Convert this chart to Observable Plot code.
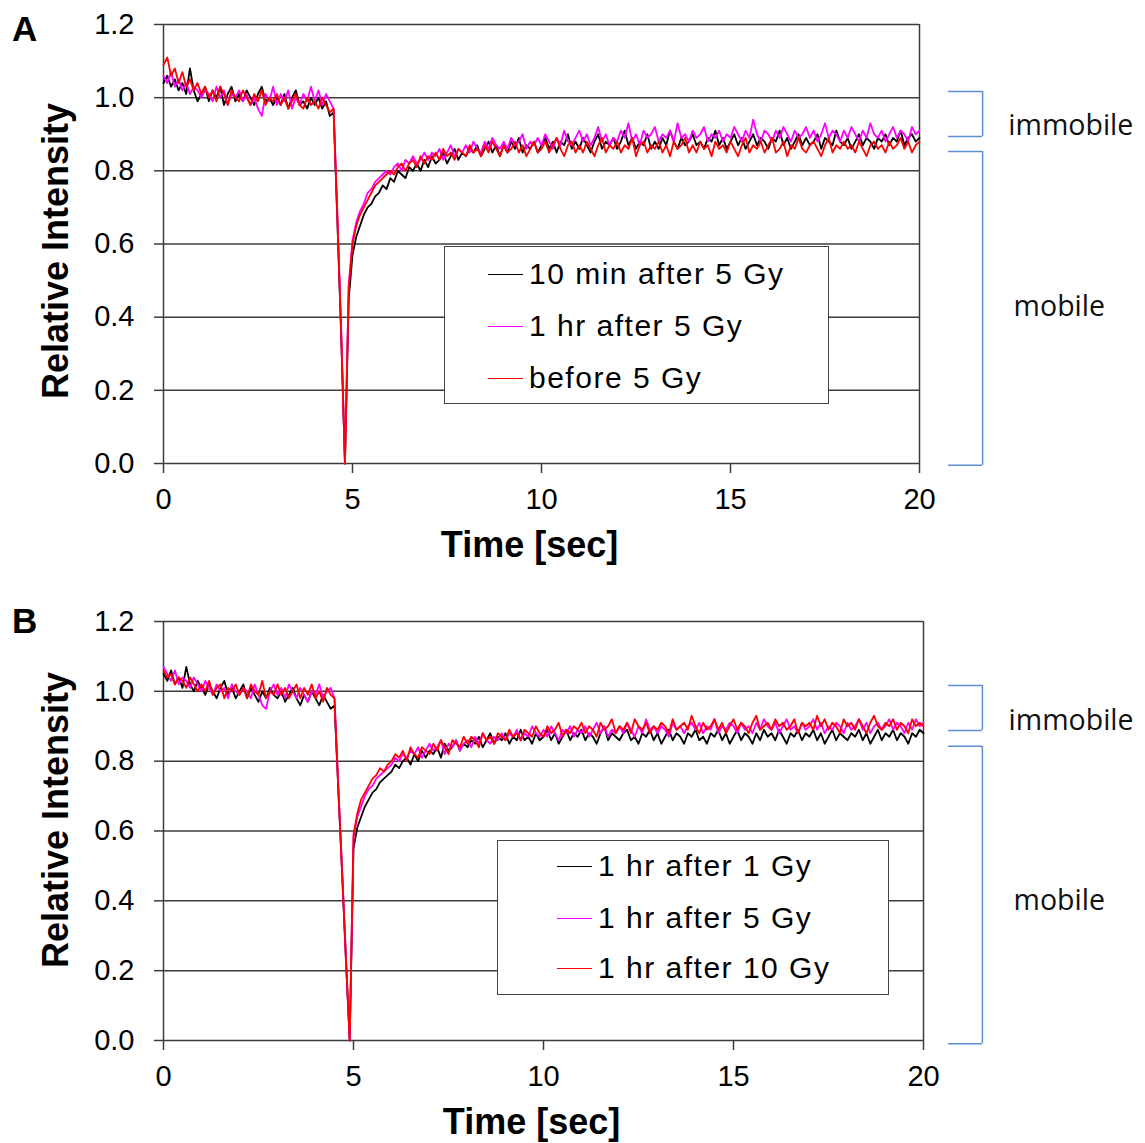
<!DOCTYPE html>
<html><head><meta charset="utf-8">
<script src="https://cdn.jsdelivr.net/npm/d3@7"></script>
<script src="https://cdn.jsdelivr.net/npm/@observablehq/plot@0.6"></script>
<style>
body{margin:0;background:#fff;}
#root{position:relative;width:1145px;height:1143px;overflow:hidden;font-family:"Liberation Sans",Arial,sans-serif;color:#000;}
.panel{position:absolute;left:0;}
.letter{position:absolute;font-weight:bold;font-size:35px;line-height:1;}
.legend{position:absolute;background:#fff;border:1.5px solid #444;box-sizing:border-box;}
.legend .row{position:absolute;height:40px;display:flex;align-items:center;white-space:nowrap;font-size:30px;letter-spacing:1.5px;}
.legend .swatch{width:35px;height:0;border-top:1.5px solid;margin-right:6px;}
</style></head><body><div id="root"></div>
<script>
// ---- data ----
const frameInterval = 0.1; // seconds between frames
const xTicks = [0, 5, 10, 15, 20];
const yTicks = [0, 0.2, 0.4, 0.6, 0.8, 1.0, 1.2];

const labelsA = ["10 min after 5 Gy", "1 hr after 5 Gy", "before 5 Gy"];
const labelsB = ["1 hr after 1 Gy", "1 hr after 5 Gy", "1 hr after 10 Gy"];

const a10min = [
1.04,1.06,1.03,1.05,1.02,1.04,1.01,1.08,1.02,0.99,
1.01,1.03,0.99,1.02,1.00,1.03,0.98,1.01,1.03,0.99,
1.01,0.99,1.02,1.00,0.98,1.01,1.03,0.99,1.00,0.98,
1.00,0.98,1.01,0.97,1.00,1.02,0.98,0.99,0.97,1.00,
0.98,1.00,0.97,0.99,0.95,0.96,0.66,0.35,0.00,0.45,
0.57,0.62,0.65,0.68,0.70,0.71,0.73,0.74,0.76,0.75,
0.78,0.77,0.80,0.79,0.78,0.81,0.80,0.82,0.80,0.83,
0.81,0.84,0.82,0.83,0.85,0.82,0.84,0.86,0.83,0.85,
0.84,0.86,0.85,0.87,0.84,0.86,0.88,0.85,0.87,0.84,
0.87,0.85,0.88,0.86,0.89,0.85,0.87,0.86,0.88,0.85,
0.87,0.89,0.86,0.88,0.85,0.88,0.87,0.90,0.86,0.88,
0.86,0.89,0.87,0.85,0.88,0.90,0.86,0.88,0.87,0.89,
0.86,0.88,0.91,0.87,0.89,0.86,0.88,0.87,0.90,0.86,
0.88,0.86,0.89,0.87,0.91,0.88,0.86,0.89,0.87,0.88,
0.90,0.87,0.88,0.86,0.89,0.88,0.91,0.87,0.89,0.86,
0.88,0.90,0.87,0.89,0.86,0.88,0.90,0.87,0.89,0.88,
0.86,0.89,0.88,0.91,0.87,0.89,0.86,0.88,0.90,0.87,
0.89,0.87,0.88,0.90,0.86,0.89,0.88,0.87,0.91,0.88,
0.87,0.89,0.86,0.88,0.90,0.87,0.89,0.88,0.86,0.89,
0.88,0.90,0.87,0.89,0.88,0.91,0.87,0.89,0.90,0.88,
0.89];

const a1hr = [
1.06,1.04,1.07,1.03,1.05,1.02,1.04,1.01,1.03,1.02,
1.00,1.02,1.01,0.99,1.03,1.00,1.02,0.98,1.01,1.00,
1.02,0.99,1.01,0.98,1.00,0.97,0.95,1.01,0.99,1.03,
0.98,1.01,0.99,1.02,0.97,1.00,0.98,1.01,0.99,1.03,
0.99,1.02,0.98,1.01,0.99,0.97,0.68,0.37,0.00,0.49,
0.61,0.66,0.69,0.71,0.74,0.75,0.77,0.78,0.79,0.80,
0.79,0.81,0.82,0.80,0.83,0.82,0.84,0.82,0.83,0.85,
0.83,0.85,0.84,0.86,0.83,0.85,0.87,0.84,0.86,0.85,
0.87,0.85,0.88,0.86,0.85,0.88,0.86,0.89,0.87,0.86,
0.88,0.86,0.89,0.87,0.88,0.90,0.86,0.88,0.87,0.89,
0.87,0.90,0.88,0.86,0.89,0.87,0.91,0.88,0.87,0.89,
0.91,0.88,0.90,0.87,0.89,0.92,0.88,0.90,0.87,0.89,
0.88,0.91,0.89,0.93,0.88,0.90,0.87,0.91,0.89,0.90,
0.92,0.88,0.90,0.89,0.91,0.88,0.93,0.89,0.90,0.88,
0.91,0.89,0.90,0.92,0.88,0.90,0.89,0.91,0.88,0.90,
0.89,0.92,0.90,0.88,0.91,0.89,0.94,0.90,0.88,0.91,
0.90,0.88,0.91,0.89,0.92,0.90,0.88,0.91,0.89,0.90,
0.92,0.89,0.91,0.88,0.90,0.93,0.89,0.91,0.90,0.88,
0.91,0.89,0.92,0.90,0.88,0.91,0.89,0.93,0.90,0.89,
0.91,0.88,0.90,0.92,0.89,0.91,0.90,0.88,0.92,0.90,
0.91];

const aBefore = [
1.09,1.11,1.06,1.08,1.04,1.07,1.03,1.05,1.02,1.04,
1.01,1.03,1.00,1.02,0.99,1.03,1.01,0.98,1.02,1.00,
0.99,1.02,1.00,0.98,1.01,0.99,1.02,0.98,1.00,0.99,
1.01,0.98,1.00,0.97,0.99,1.01,0.98,0.97,1.00,0.98,
0.99,0.97,1.00,0.98,0.96,0.97,0.67,0.36,0.00,0.48,
0.60,0.65,0.68,0.70,0.72,0.74,0.76,0.77,0.78,0.79,
0.80,0.79,0.81,0.82,0.80,0.82,0.83,0.81,0.84,0.82,
0.84,0.83,0.85,0.83,0.86,0.84,0.85,0.83,0.86,0.85,
0.84,0.87,0.85,0.86,0.84,0.87,0.85,0.88,0.86,0.84,
0.87,0.85,0.86,0.88,0.85,0.87,0.84,0.86,0.88,0.85,
0.86,0.88,0.85,0.87,0.89,0.86,0.84,0.87,0.88,0.85,
0.87,0.85,0.88,0.86,0.84,0.87,0.89,0.85,0.87,0.86,
0.88,0.85,0.87,0.86,0.89,0.84,0.87,0.88,0.85,0.87,
0.86,0.88,0.85,0.87,0.84,0.88,0.86,0.87,0.89,0.85,
0.87,0.85,0.88,0.86,0.87,0.84,0.88,0.86,0.87,0.85,
0.88,0.86,0.84,0.87,0.89,0.85,0.87,0.86,0.88,0.85,
0.87,0.89,0.85,0.86,0.88,0.84,0.87,0.86,0.89,0.86,
0.85,0.87,0.88,0.86,0.84,0.87,0.89,0.85,0.87,0.86,
0.88,0.86,0.87,0.85,0.88,0.86,0.84,0.87,0.88,0.86,
0.87,0.85,0.88,0.86,0.87,0.89,0.86,0.88,0.85,0.87,
0.88];

const b1Gy = [
1.05,1.03,1.06,1.02,1.04,1.01,1.07,1.02,1.00,1.03,
1.01,0.99,1.02,1.00,0.98,1.01,1.03,0.99,1.01,0.98,
1.00,1.02,0.98,1.01,0.99,0.97,1.00,0.98,1.01,0.99,
0.98,1.00,0.97,0.99,1.01,0.98,0.96,0.99,0.97,1.00,
0.98,0.96,0.99,0.97,0.95,0.96,0.72,0.48,0.23,0.00,
0.55,0.61,0.64,0.67,0.69,0.71,0.72,0.74,0.75,0.76,
0.77,0.79,0.78,0.80,0.81,0.79,0.82,0.80,0.83,0.81,
0.83,0.82,0.84,0.81,0.85,0.83,0.84,0.86,0.83,0.85,
0.84,0.86,0.85,0.87,0.84,0.86,0.88,0.85,0.87,0.86,
0.88,0.85,0.87,0.86,0.89,0.86,0.87,0.85,0.88,0.86,
0.87,0.89,0.86,0.88,0.85,0.87,0.89,0.86,0.88,0.87,
0.89,0.86,0.88,0.87,0.85,0.88,0.90,0.86,0.88,0.87,
0.86,0.88,0.89,0.86,0.87,0.85,0.88,0.87,0.89,0.86,
0.88,0.85,0.87,0.89,0.86,0.88,0.87,0.85,0.88,0.87,
0.89,0.86,0.87,0.85,0.88,0.87,0.89,0.86,0.88,0.85,
0.87,0.89,0.86,0.88,0.87,0.85,0.88,0.86,0.89,0.87,
0.88,0.86,0.89,0.87,0.85,0.88,0.87,0.89,0.86,0.88,
0.87,0.89,0.86,0.88,0.85,0.87,0.89,0.86,0.88,0.87,
0.86,0.88,0.87,0.89,0.86,0.88,0.85,0.87,0.89,0.86,
0.88,0.87,0.89,0.86,0.88,0.87,0.85,0.88,0.87,0.89,
0.88];

const b5Gy = [
1.07,1.05,1.03,1.06,1.02,1.04,1.03,1.01,1.04,1.02,
1.00,1.03,1.01,0.99,1.02,1.00,1.01,0.98,1.02,1.00,
0.99,1.01,1.00,0.98,1.02,0.99,0.96,0.95,1.00,1.02,
0.99,1.01,0.98,1.02,1.00,0.98,1.01,0.99,0.97,1.00,
0.99,1.02,0.98,1.00,1.01,0.98,0.73,0.49,0.24,0.00,
0.58,0.64,0.67,0.70,0.72,0.73,0.75,0.76,0.77,0.78,
0.79,0.81,0.80,0.82,0.81,0.83,0.82,0.84,0.81,0.83,
0.85,0.83,0.84,0.86,0.82,0.85,0.84,0.86,0.83,0.85,
0.86,0.84,0.87,0.85,0.88,0.86,0.85,0.87,0.86,0.88,
0.86,0.88,0.87,0.89,0.86,0.88,0.87,0.90,0.88,0.87,
0.89,0.87,0.90,0.88,0.86,0.89,0.88,0.90,0.87,0.89,
0.88,0.90,0.87,0.89,0.91,0.88,0.90,0.87,0.89,0.88,
0.90,0.88,0.91,0.89,0.87,0.90,0.88,0.92,0.89,0.90,
0.88,0.90,0.89,0.87,0.91,0.89,0.90,0.88,0.90,0.91,
0.89,0.91,0.88,0.90,0.89,0.92,0.88,0.90,0.89,0.91,
0.90,0.88,0.91,0.89,0.90,0.88,0.91,0.89,0.92,0.90,
0.89,0.91,0.88,0.90,0.92,0.89,0.90,0.88,0.91,0.89,
0.90,0.92,0.89,0.91,0.88,0.90,0.89,0.91,0.90,0.88,
0.91,0.89,0.90,0.92,0.89,0.91,0.88,0.90,0.91,0.89,
0.90,0.92,0.89,0.91,0.90,0.88,0.91,0.89,0.92,0.90,
0.91];

const b10Gy = [
1.06,1.04,1.05,1.02,1.04,1.03,1.01,1.04,1.02,1.00,
1.02,1.00,1.03,0.99,1.01,1.02,0.98,1.01,1.00,1.02,
0.99,1.01,0.98,1.02,1.00,0.99,1.03,0.98,1.00,0.99,
1.02,0.99,1.01,0.98,1.00,1.02,0.98,1.01,0.99,1.02,
0.98,1.00,0.97,1.01,0.99,0.98,0.72,0.48,0.24,0.00,
0.59,0.65,0.69,0.71,0.73,0.75,0.76,0.78,0.77,0.79,
0.80,0.82,0.81,0.83,0.80,0.84,0.82,0.81,0.84,0.83,
0.82,0.85,0.83,0.86,0.84,0.82,0.86,0.85,0.84,0.87,
0.85,0.87,0.86,0.84,0.88,0.86,0.87,0.85,0.88,0.87,
0.86,0.89,0.87,0.88,0.86,0.89,0.88,0.87,0.90,0.88,
0.87,0.90,0.88,0.89,0.91,0.87,0.89,0.88,0.90,0.89,
0.91,0.88,0.90,0.89,0.87,0.91,0.89,0.90,0.92,0.88,
0.90,0.89,0.91,0.88,0.92,0.90,0.89,0.91,0.88,0.90,
0.89,0.91,0.90,0.88,0.92,0.89,0.90,0.91,0.89,0.93,
0.90,0.88,0.91,0.89,0.90,0.92,0.89,0.91,0.88,0.90,
0.92,0.89,0.91,0.90,0.88,0.91,0.93,0.89,0.90,0.91,
0.89,0.92,0.90,0.91,0.89,0.90,0.92,0.88,0.91,0.90,
0.91,0.89,0.93,0.90,0.92,0.89,0.91,0.90,0.88,0.92,
0.90,0.91,0.89,0.92,0.90,0.88,0.91,0.93,0.90,0.89,
0.91,0.90,0.92,0.89,0.91,0.90,0.88,0.92,0.90,0.91,
0.90];

// mobile / immobile fraction brackets (relative intensity bounds)
const bracketLabels = ["immobile", "mobile"];
const bracketTopA = [1.017, 0.853];
const bracketBottomA = [0.894, -0.005];
const bracketTopB = [1.017, 0.843];
const bracketBottomB = [0.888, -0.009];

// ---- styles ----
const seriesColors = ["#000000", "#ff00ff", "#ff0000"];
const bracketColor = "#5f8fd3";
const axisColor = "#3c3c3c";

const root = document.getElementById("root");

function buildPanel(cfg) {
  const rows = [];
  cfg.labels.forEach((label, s) => cfg.values[s].forEach((v, i) => rows.push({t: i * frameInterval, v, series: label})));
  const br = bracketLabels.map((label, i) => ({label, top: cfg.tops[i], bottom: cfg.bottoms[i], ly: cfg.labelY[i], lx: cfg.labelX[i]}));
  const svg = Plot.plot({
    width: 1145,
    height: cfg.height,
    marginLeft: 163,
    marginRight: cfg.marginRight,
    marginTop: cfg.marginTop,
    marginBottom: cfg.marginBottom,
    x: {domain: [0, 20]},
    y: {domain: [0, 1.2]},
    color: {domain: cfg.labels, range: seriesColors},
    style: {fontFamily: '"Liberation Sans", Arial, sans-serif', color: "#000", background: "transparent", overflow: "visible"},
    marks: [
      Plot.gridY(yTicks, {stroke: axisColor, strokeOpacity: 1, strokeWidth: 1.5}),
      Plot.axisY(yTicks, {tickSize: 9, tickPadding: 20, tickFormat: d3.format(".1f"), fontSize: 29, label: null, stroke: axisColor, strokeWidth: 1.5}),
      Plot.axisX(xTicks, {tickSize: 10, tickPadding: 15, fontSize: 29, label: null, stroke: axisColor, strokeWidth: 1.5}),
      Plot.ruleX([0, 20], {stroke: axisColor, strokeWidth: 1.5}),
      Plot.line(rows, {x: "t", y: "v", stroke: "series", z: "series", strokeWidth: 1.8}),
      Plot.ruleY(br, {y: "top", x1: cfg.bx[0], x2: cfg.bx[1], stroke: bracketColor, strokeWidth: 1.5}),
      Plot.ruleY(br, {y: "bottom", x1: cfg.bx[0], x2: cfg.bx[1], stroke: bracketColor, strokeWidth: 1.5}),
      Plot.ruleX(br, {x: cfg.bx[1], y1: "top", y2: "bottom", stroke: bracketColor, strokeWidth: 1.5}),
      Plot.text(br, {x: "lx", y: "ly", text: "label", textAnchor: "start", fontSize: 28.5, fontFamily: '"Open Sans", sans-serif', fill: "#111"}),
      Plot.text(["Relative Intensity"], {text: d => d, frameAnchor: "left", textAnchor: "middle", dx: -107, dy: cfg.yTitleDy, rotate: -90, fontSize: 36, fontWeight: "bold"}),
      Plot.text(["Time [sec]"], {text: d => d, frameAnchor: "bottom", textAnchor: "middle", dx: -12, dy: cfg.xTitleDy, fontSize: 36, fontWeight: "bold"})
    ]
  });
  svg.classList.add("panel");
  svg.style.top = cfg.top + "px";
  root.appendChild(svg);

  const lg = document.createElement("div");
  lg.className = "legend";
  Object.assign(lg.style, {left: cfg.legend.left + "px", top: cfg.legend.top + "px", width: cfg.legend.width + "px", height: cfg.legend.height + "px"});
  cfg.labels.forEach((label, i) => {
    const row = document.createElement("div");
    row.className = "row";
    row.style.left = cfg.legend.swatchLeft + "px";
    row.style.top = (cfg.legend.rows[i] - 20) + "px";
    const sw = document.createElement("span");
    sw.className = "swatch";
    sw.style.borderTopColor = seriesColors[i];
    const tx = document.createElement("span");
    tx.textContent = label;
    row.appendChild(sw); row.appendChild(tx);
    lg.appendChild(row);
  });
  root.appendChild(lg);

  const letter = document.createElement("div");
  letter.className = "letter";
  letter.textContent = cfg.letter;
  letter.style.left = "12px";
  letter.style.top = cfg.letterTop + "px";
  root.appendChild(letter);
}

buildPanel({
  letter: "A", letterTop: 11,
  top: 0, height: 572, marginTop: 24, marginBottom: 109, marginRight: 226,
  labels: labelsA, values: [a10min, a1hr, aBefore],
  tops: bracketTopA, bottoms: bracketBottomA,
  bx: [20.77, 21.67], labelX: [22.35, 22.49], labelY: [0.924, 0.427],
  yTitleDy: 7, xTitleDy: 93,
  legend: {left: 444, top: 246, width: 385, height: 158, swatchLeft: 43, rows: [27, 79, 131]}
});

buildPanel({
  letter: "B", letterTop: 603,
  top: 572, height: 571, marginTop: 49, marginBottom: 103, marginRight: 222,
  labels: labelsB, values: [b1Gy, b5Gy, b10Gy],
  tops: bracketTopB, bottoms: bracketBottomB,
  bx: [20.66, 21.55], labelX: [22.24, 22.37], labelY: [0.916, 0.399],
  yTitleDy: -11, xTitleDy: 93,
  legend: {left: 497, top: 840, width: 392, height: 155, swatchLeft: 59, rows: [25, 77, 127]}
});
</script></body></html>
